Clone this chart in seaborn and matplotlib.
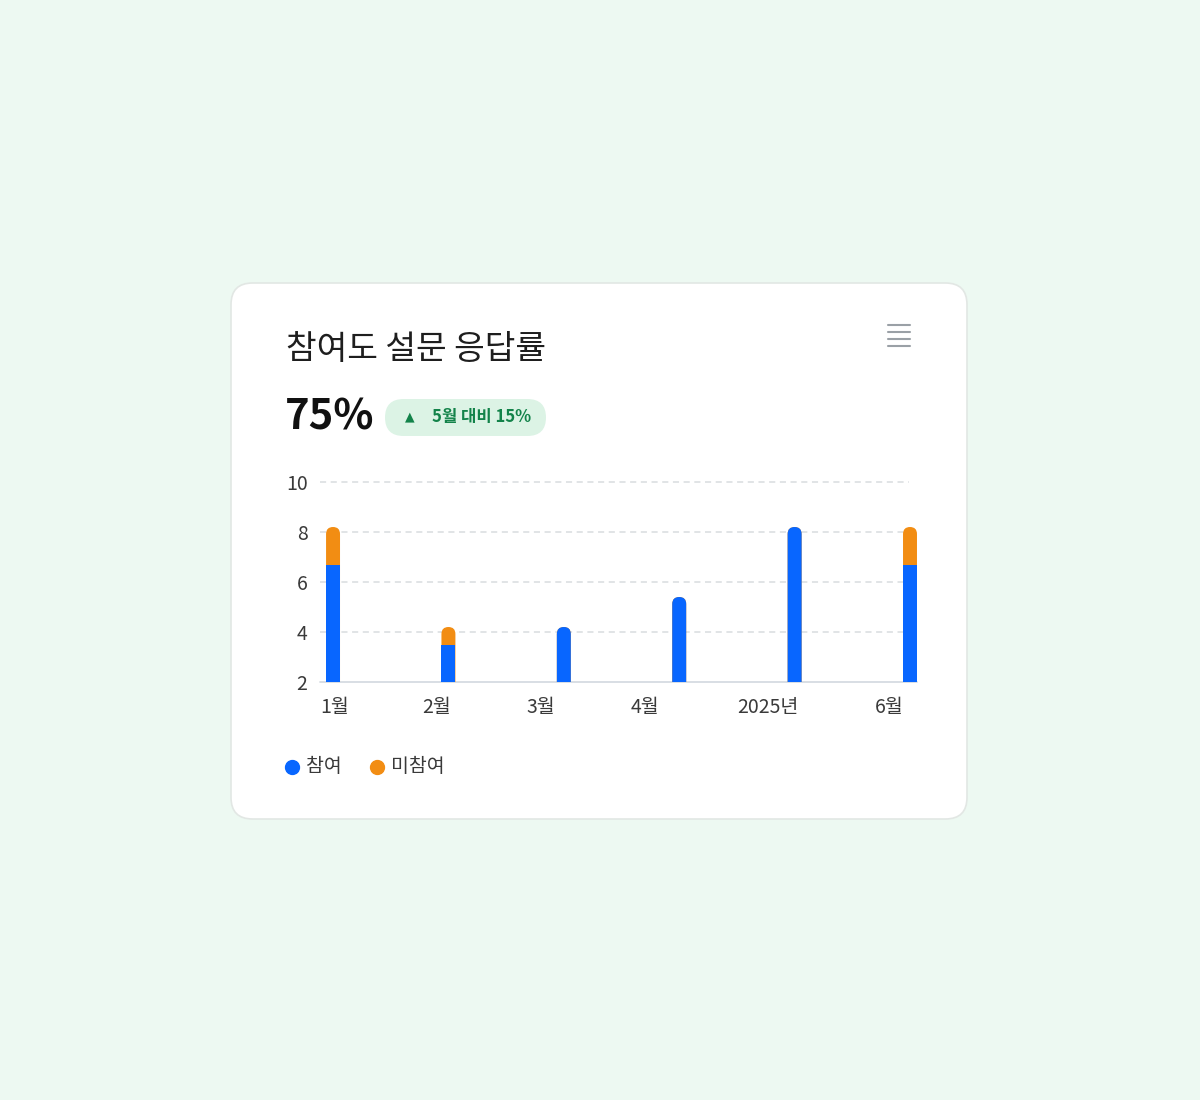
import numpy as np
import pandas as pd
import seaborn as sns
import matplotlib
matplotlib.use('Agg')
import matplotlib.pyplot as plt
from matplotlib.patches import FancyBboxPatch, Rectangle
from matplotlib.lines import Line2D

# data
months = ['1월', '2월', '3월', '4월', '2025년', '6월']
joined = [6.7, 3.5, 4.2, 5.4, 8.2, 6.7]
not_joined = [1.5, 0.7, 0.0, 0.0, 0.0, 1.5]
y_ticks = [2, 4, 6, 8, 10]
series_names = ['참여', '미참여']

BLUE = '#0866FF'
ORANGE = '#F28D13'
BG = '#EDF9F2'
TEXT = '#3A3A3A'

sns.set_theme(style='white')
plt.rcParams['font.family'] = ['Noto Sans CJK KR', 'DejaVu Sans']

df = pd.DataFrame({'month': months, 'joined': joined, 'not_joined': not_joined})
df['total'] = df['joined'] + df['not_joined']

W, H = 1200, 1100
fig = plt.figure(figsize=(12, 11), dpi=100)
fig.patch.set_facecolor(BG)

def fx(px):
    return px / W

def fy(py):
    return 1 - py / H

# card (kept behind the axes)
card = FancyBboxPatch((fx(231), fy(819)), fx(967) - fx(231), fy(283) - fy(819),
                      boxstyle='round,pad=0,rounding_size=0.018',
                      mutation_aspect=W / H,
                      transform=fig.transFigure, facecolor='white',
                      edgecolor='#E2E7E4', linewidth=1.2, zorder=-5)
fig.patches.append(card)

# header
fig.text(fx(286), fy(349), '참여도 설문 응답률', fontsize=24, color='#1E1E1E',
         va='center', ha='left')
fig.text(fx(285), fy(417), '75%', fontsize=30, fontweight='bold', color='#111111',
         va='center', ha='left')
badge = FancyBboxPatch((fx(385), fy(436)), fx(546) - fx(385), fy(399) - fy(436),
                       boxstyle='round,pad=0,rounding_size=0.0155',
                       mutation_aspect=W / H,
                       transform=fig.transFigure, facecolor='#DCF3E5',
                       edgecolor='none', zorder=-4)
fig.patches.append(badge)
fig.text(fx(410), fy(417), '▲', fontsize=9, color='#13834A', va='center', ha='center',
         family=['DejaVu Sans'])
fig.text(fx(432), fy(417), '5월 대비 15%', fontsize=12, fontweight='bold',
         color='#13834A', va='center', ha='left')

# menu icon
for py in [325, 332, 339, 346]:
    fig.lines.append(Line2D([fx(888), fx(910)], [fy(py), fy(py)],
                            transform=fig.transFigure, color='#9AA0A6', linewidth=1.5))

# chart
ax = fig.add_axes([fx(320), fy(682), fx(908.5) - fx(320), fy(482) - fy(682)])
ax.set_facecolor('none')

bar_w = 0.121
sns.barplot(data=df, x='month', y='total', color=ORANGE, width=bar_w,
            saturation=1, ax=ax, zorder=3)
sns.barplot(data=df, x='month', y='joined', color=BLUE, width=bar_w,
            saturation=1, ax=ax, zorder=4)

ax.set_xlim(-0.113, 4.987)
ax.set_ylim(2, 10)

# px -> data ratio used for rounded tops
x_per_px = 1 / 115.4
y_per_px = 8 / 200
radius = 7 * x_per_px

n = len(months)
patches = list(ax.patches)
for i, p in enumerate(patches):
    series = 0 if i < n else 1
    idx = i % n
    rounded = series == 0 or df['not_joined'][idx] == 0
    x0, w, h = p.get_x(), p.get_width(), p.get_height()
    color = p.get_facecolor()
    p.remove()
    if rounded:
        new = FancyBboxPatch((x0, 0), w, h,
                             boxstyle=f'round,pad=0,rounding_size={radius}',
                             mutation_aspect=y_per_px / x_per_px,
                             facecolor=color, edgecolor='none',
                             zorder=3 + series)
    else:
        new = Rectangle((x0, 0), w, h, facecolor=color, edgecolor='none',
                        zorder=3 + series)
    ax.add_patch(new)
    # cut the bottom at the axis floor, but let the last bar spill to the right
    new.set_clip_path(Rectangle((-1, 2), 10, 20, transform=ax.transData))
    new.set_clip_on(True)

for t in y_ticks[1:]:
    ax.axhline(t, color='#D9DCDF', linestyle=(0, (4, 3)), linewidth=1.1, zorder=1,
               clip_on=False)
ax.plot([-0.113, 5.06], [2, 2], color='#D5DBE2', linewidth=1.3, zorder=2, clip_on=False)

for s in ax.spines.values():
    s.set_visible(False)
ax.set_yticks(y_ticks)
ax.set_yticklabels([str(v) for v in y_ticks], fontsize=14, color=TEXT)
ax.tick_params(axis='y', length=0, pad=9)
ax.set_xticks([0.017, 0.901, 1.802, 2.704, 3.77, 4.818])
ax.set_xticklabels(months, fontsize=14, color=TEXT)
ax.tick_params(axis='x', length=0, pad=11)
ax.set_xlabel('')
ax.set_ylabel('')
ax.grid(False)

# legend
for cx, tx, col, name in [(292, 306, BLUE, series_names[0]), (377, 391, ORANGE, series_names[1])]:
    fig.lines.append(Line2D([fx(cx)], [fy(767)], transform=fig.transFigure, marker='o',
                            markersize=10, color=col, linestyle='none'))
    fig.text(fx(tx), fy(766), name, fontsize=14, color=TEXT, va='center', ha='left')

fig.savefig('out.png', dpi=100, facecolor=BG)
